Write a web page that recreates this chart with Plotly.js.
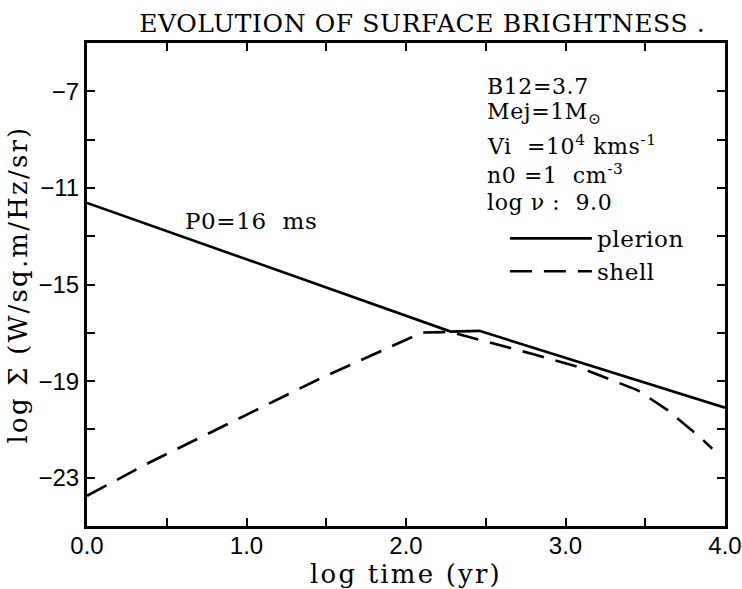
<!DOCTYPE html>
<html>
<head>
<meta charset="utf-8">
<script src="https://cdn.plot.ly/plotly-3.0.1.min.js"></script>
<style>
  html, body { margin: 0; padding: 0; background: #fff; }
  #chart { width: 742px; height: 589px; }
  .gtitle { letter-spacing: 0.6px; }
  .xtitle, .ytitle { letter-spacing: 2.2px; }
  .annotation-text, .legendtext { letter-spacing: 0.6px; }
</style>
</head>
<body>
<div id="chart"></div>
<script>
// ---- data ----
const plerionLogTime = [0, 2.28, 2.46, 4.0];
const plerionLogSigma = [-11.62, -16.95, -16.92, -20.1];

const shellLogTime = [0, 0.395, 1.46, 2.1, 2.28, 2.44, 2.8, 3.06, 3.26, 3.45, 3.64, 3.84, 3.92];
const shellLogSigma = [-23.75, -22.36, -18.9, -16.99, -16.97, -17.25, -17.89, -18.37, -18.9, -19.37, -20.2, -21.3, -21.8];

const xTickVals = [0, 0.5, 1, 1.5, 2, 2.5, 3, 3.5, 4];
const xTickText = ["0.0", "", "1.0", "", "2.0", "", "3.0", "", "4.0"];
const yTickVals = [-23, -21, -19, -17, -15, -13, -11, -9, -7];
const yTickText = ["\u221223", "", "\u221219", "", "\u221215", "", "\u221211", "", "\u22127"];

const seriesNames = ["plerion", "shell"];
const titleText = "EVOLUTION OF SURFACE BRIGHTNESS .";
const xTitle = "log time (yr)";
const yTitle = "log \u03a3 (W/sq.m/Hz/sr)";

const infoLines = [
  "B12=3.7",
  "Mej=1M<sub>\u2299</sub>",
  "Vi\u00a0\u00a0=10<sup>4</sup>\u00a0kms<sup>-1</sup>",
  "n0\u00a0=1\u00a0\u00a0cm<sup>-3</sup>",
  "log\u00a0\u03bd\u00a0:\u00a0\u00a09.0"
];
const infoY = [-6.82, -7.92, -9.24, -10.42, -11.62];
const periodLabel = "P0=16\u00a0\u00a0ms";

const serif = "DejaVu Serif, serif";
const sans = "Liberation Sans, Arial, sans-serif";

const traces = [
  {
    x: plerionLogTime, y: plerionLogSigma, name: seriesNames[0],
    type: "scatter", mode: "lines",
    line: { color: "#000", width: 2.6 }
  },
  {
    x: shellLogTime, y: shellLogSigma, name: seriesNames[1],
    type: "scatter", mode: "lines",
    line: { color: "#000", width: 2.6, dash: "22px,12px" }
  }
];

const annotations = infoLines.map((t, i) => ({
  text: t, x: 2.495, y: infoY[i], xref: "x", yref: "y",
  xanchor: "left", yanchor: "middle", showarrow: false,
  font: { family: serif, size: 22, color: "#000" }
}));
annotations.push({
  text: periodLabel, x: 0.6, y: -12.35, xref: "x", yref: "y",
  xanchor: "left", yanchor: "middle", showarrow: false,
  font: { family: serif, size: 23, color: "#000" }
});

const axisCommon = {
  showgrid: false, zeroline: false,
  showline: true, linecolor: "#000", linewidth: 3,
  mirror: "allticks", ticks: "inside", ticklen: 8, tickwidth: 2, tickcolor: "#000",
  tickmode: "array",
  tickfont: { family: sans, size: 24, color: "#000" }
};

const layout = {
  width: 742, height: 589,
  margin: { l: 87, r: 17, t: 43, b: 63 },
  paper_bgcolor: "#fff", plot_bgcolor: "#fff",
  title: {
    text: titleText, xref: "container", yref: "container",
    x: 0.569, xanchor: "center", y: 0.96, yanchor: "middle",
    font: { family: serif, size: 25, color: "#000" }
  },
  xaxis: Object.assign({}, axisCommon, {
    range: [0, 4], tickvals: xTickVals, ticktext: xTickText,
    ticklabelstandoff: -4,
    title: { text: xTitle, standoff: 6, font: { family: serif, size: 26, color: "#000" } }
  }),
  yaxis: Object.assign({}, axisCommon, {
    range: [-25, -5], tickvals: yTickVals, ticktext: yTickText,
    title: { text: yTitle, standoff: 4, font: { family: serif, size: 26, color: "#000" } }
  }),
  showlegend: true,
  legend: {
    x: 0.655, y: 0.64, xanchor: "left", yanchor: "top",
    bgcolor: "rgba(0,0,0,0)", borderwidth: 0,
    itemwidth: 82, tracegroupgap: 0,
    font: { family: serif, size: 23, color: "#000" }
  },
  annotations: annotations
};

Plotly.newPlot("chart", traces, layout, { displayModeBar: false, staticPlot: true });
</script>
</body>
</html>
